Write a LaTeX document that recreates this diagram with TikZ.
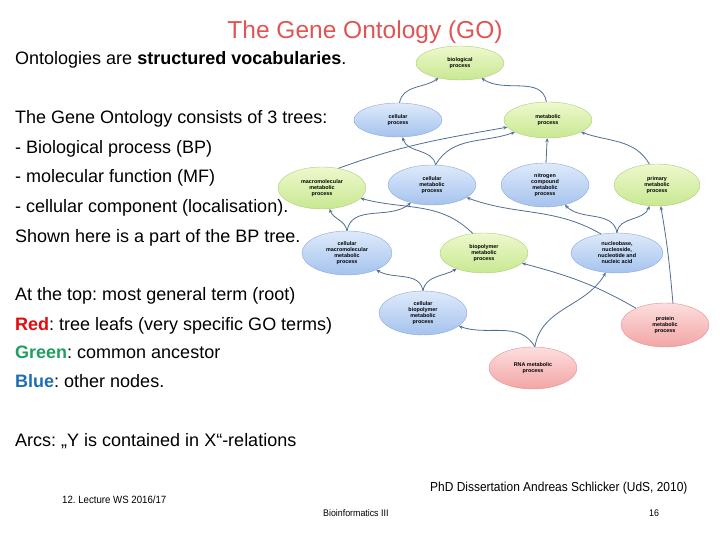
\documentclass[tikz,border=0pt]{standalone}
\usepackage{fontspec}
\setmainfont{Liberation Sans}
\usetikzlibrary{shapes.geometric,arrows.meta}
\frenchspacing

\definecolor{titlered}{RGB}{224,84,84}
\definecolor{keyred}{RGB}{226,10,10}
\definecolor{keygreen}{RGB}{32,160,96}
\definecolor{keyblue}{RGB}{30,110,180}
\definecolor{arcline}{RGB}{80,110,145}

\tikzset{
  term/.style={ellipse, inner sep=0pt, minimum width=88pt, minimum height=40pt,
    align=center, font=\fontsize{5.4}{6}\selectfont\bfseries},
  greenterm/.style={term, draw={rgb,255:red,175;green,205;blue,120},
    top color={rgb,255:red,238;green,248;blue,205}, bottom color={rgb,255:red,200;green,232;blue,145}},
  blueterm/.style={term, draw={rgb,255:red,140;green,168;blue,215},
    top color={rgb,255:red,222;green,234;blue,250}, bottom color={rgb,255:red,165;green,195;blue,238}},
  redterm/.style={term, draw={rgb,255:red,225;green,145;blue,145},
    top color={rgb,255:red,253;green,222;blue,222}, bottom color={rgb,255:red,242;green,165;blue,165}},
  arc/.style={draw=arcline, line width=0.8pt, -{Stealth[length=4pt,width=3.5pt]}},
  txt/.style={anchor=base west, inner sep=0pt, font=\fontsize{18}{19}\selectfont},
  foot/.style={anchor=base west, inner sep=0pt}
}

\begin{document}
\begin{tikzpicture}[x=1pt,y=1pt]
  \useasboundingbox (0,0) rectangle (720,540);

  % title and left text
  \node[anchor=base, inner sep=0pt, text=titlered, font=\fontsize{24.5}{26}\selectfont] (title) at (365,501) {The Gene Ontology (GO)};
  \foreach \n/\y/\t in {l1/475/{Ontologies are \textbf{structured vocabularies}.},
      l2/416/{The Gene Ontology consists of 3 trees:},
      l3/386/{- Biological process (BP)},
      l4/357/{- molecular function (MF)},
      l5/327/{- cellular component (localisation).},
      l6/297/{Shown here is a part of the BP tree.},
      l7/239/{At the top: most general term (root)},
      l8/209/{\textcolor{keyred}{\textbf{Red}}: tree leafs (very specific GO terms)},
      l9/181/{\textcolor{keygreen}{\textbf{Green}}: common ancestor},
      l10/152/{\textcolor{keyblue}{\textbf{Blue}}: other nodes.},
      l11/93/{Arcs: „Y is contained in X“-relations}}
  {
    \node[txt] (\n) at (15,\y) {\t};
  }

  % GO terms
  \node[greenterm, minimum height=34pt] (bp) at (460,477) {biological\\process};
  \node[blueterm, minimum height=34pt] (cp) at (398,420) {cellular\\process};
  \node[greenterm, minimum height=36pt] (mp) at (548,420) {metabolic\\process};
  \node[greenterm, minimum height=42pt] (mmp) at (322,352) {macromolecular\\metabolic\\process};
  \node[blueterm] (cmp) at (432,355) {cellular\\metabolic\\process};
  \node[blueterm, minimum height=44pt] (ncmp) at (545,355) {nitrogen\\compound\\metabolic\\process};
  \node[greenterm, minimum width=86pt, minimum height=42pt] (pmp) at (657,355) {primary\\metabolic\\process};
  \node[blueterm, minimum width=90pt, minimum height=44pt] (cmmp) at (347,287) {cellular\\macromolecular\\metabolic\\process};
  \node[greenterm] (bmp) at (484,287) {biopolymer\\metabolic\\process};
  \node[blueterm, minimum width=92pt] (nna) at (617,287) {nucleobase,\\nucleoside,\\nucleotide and\\nucleic acid};
  \node[blueterm, minimum height=44pt] (cbmp) at (423,227) {cellular\\biopolymer\\metabolic\\process};
  \node[redterm, minimum height=44pt] (prmp) at (665,215) {protein\\metabolic\\process};
  \node[redterm, minimum height=42pt] (rmp) at (533,172) {RNA metabolic\\process};

  % is-a arcs
  \draw[arc] (cp.85) to[out=80,in=215] (bp);
  \draw[arc] (mp.95) to[out=100,in=-35] (bp);
  \draw[arc] (mmp.50) to[out=20,in=190] (mp);
  \draw[arc] (cmp.80) to[out=60,in=200] (mp);
  \draw[arc] (cmp.80) to[out=100,in=-75] (cp);
  \draw[arc] (ncmp) -- (mp);
  \draw[arc] (pmp.110) to[out=120,in=-20] (mp);
  \draw[arc] (cmmp.90) to[out=100,in=-70] (mmp);
  \draw[arc] (cmmp.90) to[out=80,in=220] (cmp);
  \draw[arc] (bmp.120) to[out=135,in=-15] (mmp);
  \draw[arc] (nna.130) to[out=150,in=-20] (cmp);
  \draw[arc] (nna.90) to[out=100,in=-45] (ncmp);
  \draw[arc] (nna.90) to[out=85,in=-110] (pmp);
  \draw[arc] (cbmp.90) to[out=100,in=-30] (cmmp);
  \draw[arc] (cbmp.90) to[out=80,in=210] (bmp);
  \draw[arc] (prmp.70) to[out=95,in=-80] (pmp);
  \draw[arc] (prmp.150) to[out=150,in=-15] (bmp);
  \draw[arc] (rmp.85) to[out=80,in=-120] (nna);
  \draw[arc] (rmp.85) to[out=120,in=-20] (cbmp);

  % footer
  \node[foot, font=\fontsize{13}{14}\selectfont] (src) at (430,48) {\scalebox{0.92}[1]{PhD Dissertation Andreas Schlicker (UdS, 2010)}};
  \node[foot, font=\fontsize{10.5}{11}\selectfont] (lect) at (62,36) {\scalebox{0.92}[1]{12. Lecture WS 2016/17}};
  \node[foot, font=\fontsize{9.6}{10}\selectfont] (course) at (323,23) {\scalebox{0.92}[1]{Bioinformatics III}};
  \node[foot, font=\fontsize{9.6}{10}\selectfont] (page) at (649,23) {\scalebox{0.92}[1]{16}};
\end{tikzpicture}
\end{document}
